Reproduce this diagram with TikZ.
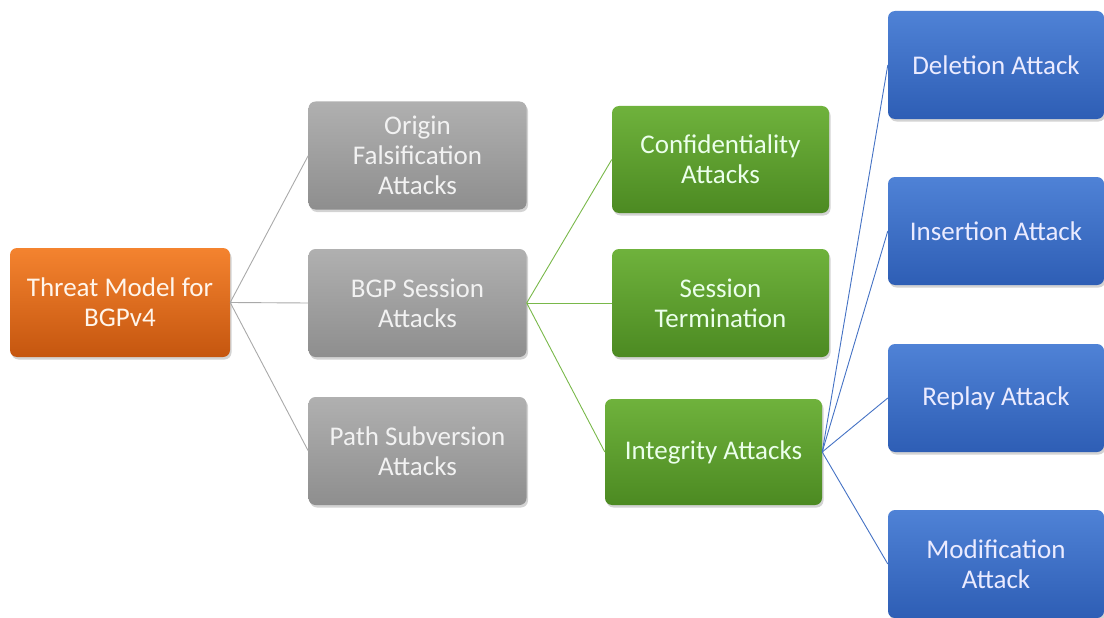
\documentclass[tikz,border=0pt]{standalone}
\usepackage{fontspec}
\setmainfont{Carlito}
\usetikzlibrary{shadows}
\definecolor{orangeTop}{HTML}{F4832F}
\definecolor{orangeBot}{HTML}{C5560F}
\definecolor{grayTop}{HTML}{B0B0B0}
\definecolor{grayBot}{HTML}{8E8E8E}
\definecolor{greenTop}{HTML}{6FB23C}
\definecolor{greenBot}{HTML}{4C8A22}
\definecolor{blueTop}{HTML}{4F82D6}
\definecolor{blueBot}{HTML}{2E5EB5}
\definecolor{grayLine}{HTML}{A9A9A9}
\definecolor{greenLine}{HTML}{79B84A}
\definecolor{blueLine}{HTML}{4472C4}
\tikzset{
  box/.style={rounded corners=7pt, minimum width=218pt, minimum height=108pt,
    align=center, inner sep=2pt,
    font=\fontsize{27}{30}\selectfont,
    drop shadow={shadow xshift=1.5pt, shadow yshift=-2.5pt, opacity=0.35}},
  rootbox/.style={box, top color=orangeTop, bottom color=orangeBot, text=orange!8},
  attackbox/.style={box, top color=grayTop, bottom color=grayBot, text=white!95!black},
  sessionbox/.style={box, top color=greenTop, bottom color=greenBot, text=green!8!white},
  msgbox/.style={box, top color=blueTop, bottom color=blueBot, text=blue!8!white},
  grayedge/.style={draw=grayLine, line width=0.9pt},
  greenedge/.style={draw=greenLine, line width=0.9pt},
  blueedge/.style={draw=blueLine, line width=0.9pt}
}
\begin{document}
\begin{tikzpicture}[x=1pt, y=-1pt]
\useasboundingbox (0,0) rectangle (1104,618);
% tree levels, left to right
\node[rootbox, minimum width=220pt, minimum height=109pt] (root) at (120,302.5) {Threat Model for\\BGPv4};

\node[attackbox] (origin) at (417.5,155.5) {Origin\\Falsification\\Attacks};
\node[attackbox] (bgp) at (417.5,303) {BGP Session\\Attacks};
\node[attackbox] (path) at (417.5,451) {Path Subversion\\Attacks};

\node[sessionbox, minimum width=217pt, minimum height=107pt] (conf) at (720.5,159.5) {Confidentiality\\Attacks};
\node[sessionbox, minimum width=217pt] (term) at (720.5,303) {Session\\Termination};
\node[sessionbox, minimum width=217pt, minimum height=106pt] (integ) at (713.5,452) {Integrity Attacks};

\node[msgbox, minimum width=216pt] (del) at (996,65) {Deletion Attack};
\node[msgbox, minimum width=216pt] (ins) at (996,231) {Insertion Attack};
\node[msgbox, minimum width=216pt] (rep) at (996,398) {Replay Attack};
\node[msgbox, minimum width=216pt] (mod) at (996,564) {Modification\\Attack};

% connectors
\foreach \t in {origin,bgp,path} \draw[grayedge] (root.east) -- (\t.west);
\foreach \t in {conf,term,integ} \draw[greenedge] (bgp.east) -- (\t.west);
\foreach \t in {del,ins,rep,mod} \draw[blueedge] (integ.east) -- (\t.west);
\end{tikzpicture}
\end{document}
